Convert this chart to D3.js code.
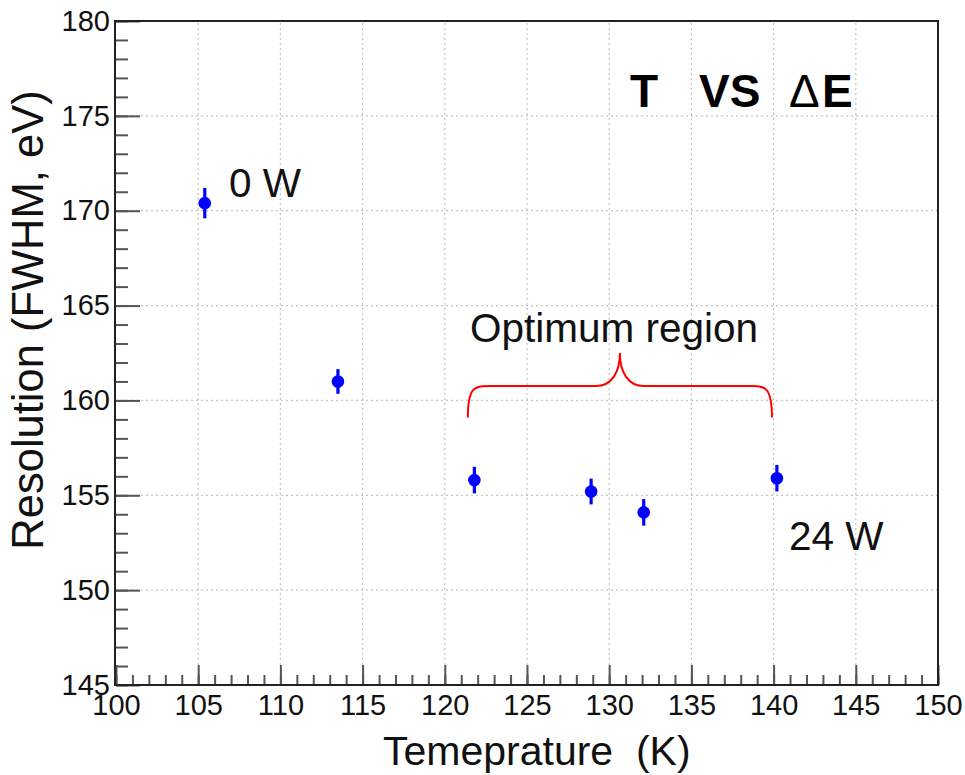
<!DOCTYPE html>
<html>
<head>
<meta charset="utf-8">
<script src="https://cdn.jsdelivr.net/npm/d3@7"></script>
<style>
  body { margin: 0; background: #fff; }
  text { font-family: "Liberation Sans", Arial, sans-serif; }
</style>
</head>
<body>
<div id="chart"></div>
<script>
// data
const temps = [105.4, 113.5, 121.8, 128.9, 132.1, 140.2];
const resolution = [170.4, 161.0, 155.8, 155.2, 154.1, 155.9];
const errors = [0.8, 0.65, 0.7, 0.68, 0.7, 0.7];
const xTicks = [100, 105, 110, 115, 120, 125, 130, 135, 140, 145, 150];
const yTicks = [145, 150, 155, 160, 165, 170, 175, 180];
// brace over the optimum region: [start T, end T, mid T], [foot, bar, peak] in eV
const braceT = [121.4, 139.9, 130.65];
const braceE = [159.1, 160.76, 162.5];

const width = 965, height = 775;
const margin = {top: 21, right: 27, bottom: 90, left: 116};

const svg = d3.select('#chart').append('svg')
    .attr('width', width)
    .attr('height', height);

const x = d3.scaleLinear().domain([100, 150]).range([margin.left, width - margin.right]);
const y = d3.scaleLinear().domain([145, 180]).range([height - margin.bottom, margin.top]);

// grid ====================================================
const grid = svg.append('g').attr('class', 'grid');
grid.selectAll('line.v').data(xTicks.slice(1, -1)).enter().append('line')
    .attr('x1', d => x(d)).attr('x2', d => x(d))
    .attr('y1', y(145)).attr('y2', y(180))
    .attr('stroke', '#c4c4c4').attr('stroke-width', 1.2)
    .attr('stroke-dasharray', '2,3');
grid.selectAll('line.h').data(yTicks.slice(1, -1)).enter().append('line')
    .attr('y1', d => y(d)).attr('y2', d => y(d))
    .attr('x1', x(100)).attr('x2', x(150))
    .attr('stroke', '#c4c4c4').attr('stroke-width', 1.2)
    .attr('stroke-dasharray', '2,3');

// axes ====================================================
function styleAxis(g) {
    g.select('.domain').remove();
    g.selectAll('.tick line').attr('stroke', '#555').attr('stroke-width', 2);
    g.selectAll('.tick text')
        .attr('fill', '#111')
        .style('font-size', '29px');
}

svg.append('g')
    .attr('transform', `translate(0,${y(145)})`)
    .call(d3.axisBottom(x).tickValues(d3.range(100, 150.5, 1)).tickSize(-10).tickFormat(''))
    .call(styleAxis);
svg.append('g')
    .attr('transform', `translate(0,${y(145)})`)
    .call(d3.axisBottom(x).tickValues(xTicks).tickSize(-20).tickPadding(9).tickFormat(d3.format('d')))
    .call(styleAxis);

svg.append('g')
    .attr('transform', `translate(${x(100)},0)`)
    .call(d3.axisLeft(y).tickValues(d3.range(145, 180.5, 1)).tickSize(-12).tickFormat(''))
    .call(styleAxis);
svg.append('g')
    .attr('transform', `translate(${x(100)},0)`)
    .call(d3.axisLeft(y).tickValues(yTicks).tickSize(-24).tickPadding(6).tickFormat(d3.format('d')))
    .call(styleAxis);

// frame
svg.append('rect')
    .attr('x', x(100) - 1).attr('y', y(180))
    .attr('width', x(150) - x(100) + 1).attr('height', y(145) - y(180))
    .attr('fill', 'none').attr('stroke', '#222').attr('stroke-width', 2);

// axis titles
svg.append('text')
    .attr('x', 383).attr('y', 765)
    .attr('xml:space', 'preserve')
    .style('font-size', '41px').attr('fill', '#111')
    .text('Temeprature  (K)');

svg.append('text')
    .attr('transform', 'translate(43,320) rotate(-90)')
    .attr('text-anchor', 'middle')
    .style('font-size', '43.5px').attr('fill', '#111')
    .text('Resolution (FWHM, eV)');

// points with error bars =================================
const pts = temps.map((t, i) => ({t: t, r: resolution[i], e: errors[i]}));

svg.append('g').selectAll('line').data(pts).enter().append('line')
    .attr('x1', d => x(d.t)).attr('x2', d => x(d.t))
    .attr('y1', d => y(d.r - d.e)).attr('y2', d => y(d.r + d.e))
    .attr('stroke', '#0000ff').attr('stroke-width', 3.2);

svg.append('g').selectAll('circle').data(pts).enter().append('circle')
    .attr('cx', d => x(d.t)).attr('cy', d => y(d.r))
    .attr('r', 6.3)
    .attr('fill', '#0000ff');

// brace ==================================================
const bx0 = x(braceT[0]), bx1 = x(braceT[1]), bxm = x(braceT[2]);
const byFoot = y(braceE[0]), byBar = y(braceE[1]), byPeak = y(braceE[2]);
const brace = d3.path();
brace.moveTo(bx0, byFoot);
brace.bezierCurveTo(bx0, byBar - 2, bx0 + 8, byBar, bx0 + 26, byBar);
brace.lineTo(bxm - 24, byBar);
brace.bezierCurveTo(bxm - 8, byBar, bxm, byBar - 14, bxm, byPeak);
brace.bezierCurveTo(bxm, byBar - 14, bxm + 8, byBar, bxm + 24, byBar);
brace.lineTo(bx1 - 26, byBar);
brace.bezierCurveTo(bx1 - 8, byBar, bx1, byBar - 2, bx1, byFoot);
svg.append('path')
    .attr('d', brace.toString())
    .attr('fill', 'none')
    .attr('stroke', '#ff0000')
    .attr('stroke-width', 2);

// annotations ============================================
const notes = [
    {x: 229, y: 197, text: '0 W'},
    {x: 789, y: 550, text: '24 W'},
    {x: 470, y: 342, text: 'Optimum region'}
];
svg.append('g').selectAll('text').data(notes).enter().append('text')
    .attr('x', d => d.x).attr('y', d => d.y)
    .style('font-size', '40.5px')
    .attr('fill', '#111')
    .text(d => d.text);

const title = [
    {x: 630, text: 'T', weight: 'bold'},
    {x: 699, text: 'VS', weight: 'bold'},
    {x: 789, text: '\u0394', weight: 'normal'},
    {x: 822, text: 'E', weight: 'bold'}
];
svg.append('g').selectAll('text').data(title).enter().append('text')
    .attr('x', d => d.x).attr('y', 107)
    .style('font-size', '46px')
    .style('font-weight', d => d.weight)
    .attr('fill', '#000')
    .text(d => d.text);
</script>
</body>
</html>
